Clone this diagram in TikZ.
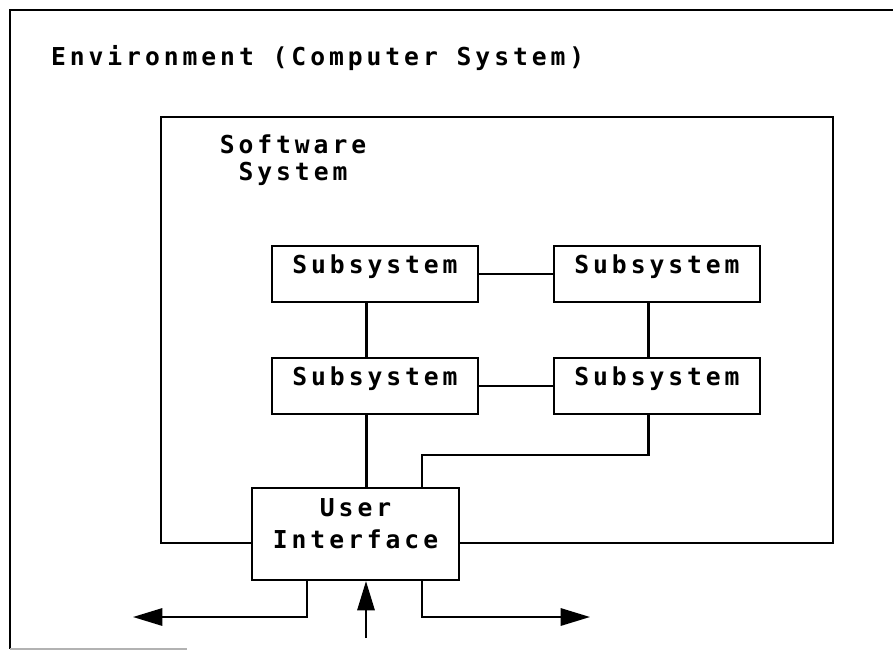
\documentclass[tikz,border=0pt]{standalone}
\usepackage{fontspec}
\newfontfamily\plotfont{DejaVu Sans Mono}[LetterSpace=16]
\usetikzlibrary{arrows.meta,positioning}

\begin{document}
\begin{tikzpicture}[
    x=0.75pt, y=-0.75pt,
    line width=1.6pt,
    heading/.style={inner sep=0pt, font=\plotfont\bfseries\fontsize{18.5}{20.25}\selectfont},
    subbox/.style={rectangle, draw, fill=white, inner sep=0pt, minimum width=154.5pt, text height=20.25pt, text depth=21.75pt, font=\plotfont\bfseries\fontsize{18.5}{24}\selectfont},
    uibox/.style={rectangle, draw, fill=white, inner sep=0pt, minimum width=155.25pt, align=center, text height=45pt, text depth=24pt, font=\plotfont\bfseries\fontsize{18.5}{24}\selectfont},
    flow/.style={-{Triangle[length=22pt, width=13pt]}}
]
    \useasboundingbox (0,0) rectangle (893,651);

    % Environment frame
    \draw (893,10) -- (10,10) -- (10,649);
    \draw[gray!60] (10,649) -- (187,649);
    \node[heading, anchor=base west] (env) at (50,65) {Environment (Computer System)};

    % Software system frame
    \draw (161,117) rectangle (833,543);
    \node[heading, anchor=base, align=center] (sw) at (293,180) {Software\\System};

    % Subsystems
    \node[subbox] (ss1) at (375,274) {Subsystem};
    \node[subbox, right=55.4pt of ss1] (ss2) {Subsystem};
    \node[subbox, below=40.4pt of ss1] (ss3) {Subsystem};
    \node[subbox, below=40.4pt of ss2] (ss4) {Subsystem};

    \node[uibox, below=53.9pt of ss3, xshift=-14.6pt] (ui) {User\\Interface};

    \draw (ss1) -- (ss2);
    \draw (ss3) -- (ss4);
    \draw ([xshift=-6.4pt]ss1.south) -- ([xshift=-6.4pt]ss3.north);
    \draw ([xshift=-6.4pt]ss2.south) -- ([xshift=-6.4pt]ss4.north);
    \draw ([xshift=-6.4pt]ss3.south) -- ([xshift=-6.4pt]ss3.south |- ui.north);
    \draw ([xshift=-6.4pt]ss4.south) -- ++(0,-30pt) -| ([xshift=50pt]ui.north);

    % Input and output
    \coordinate (outL) at (133,617);
    \coordinate (outR) at (590,617);
    \coordinate (inB) at (366,638);
    \draw[flow] ([xshift=-36.4pt]ui.south) |- (outL);
    \draw[flow] ([xshift=50pt]ui.south) |- (outR);
    \draw[flow] (inB) -- (inB |- ui.south);

\end{tikzpicture}
\end{document}
